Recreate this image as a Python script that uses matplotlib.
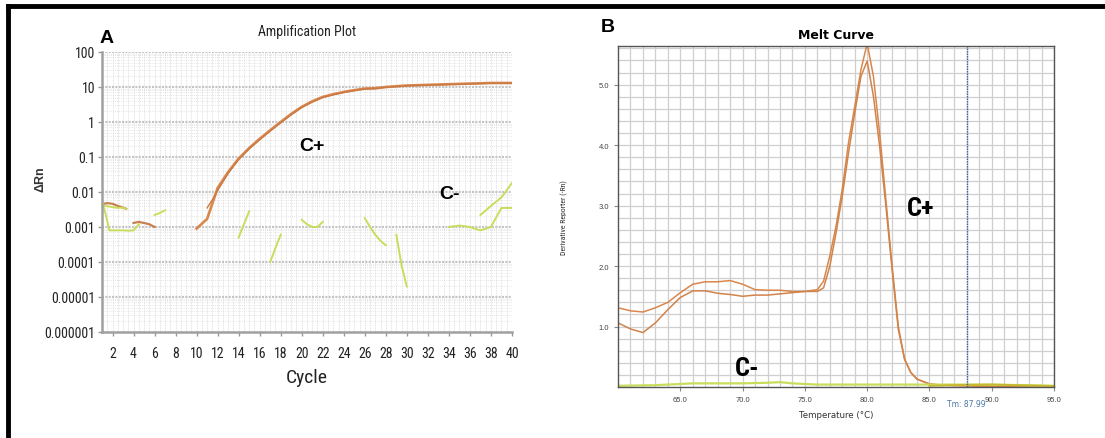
import numpy as np
import matplotlib
matplotlib.use('Agg')
import matplotlib.pyplot as plt
from matplotlib.lines import Line2D
from matplotlib.ticker import FixedLocator, NullFormatter
from matplotlib import font_manager

installed = {f.name for f in font_manager.fontManager.ttflist}
narrow_name = None
for cand in ['Liberation Sans Narrow', 'Roboto Condensed', 'DejaVu Sans Condensed',
             'Open Sans Condensed', 'Noto Sans Condensed']:
    if cand in installed:
        narrow_name = cand
        break
if narrow_name is None:
    narrow = ['Liberation Sans', 'DejaVu Sans']
    shrink = 0.85
else:
    narrow = [narrow_name, 'DejaVu Sans']
    shrink = 1.0
plt.rcParams['font.family'] = ['Liberation Sans', 'DejaVu Sans']

# ---- panel A: amplification plot (log scale) ----
cycle_pos_a = [10, 11, 12, 13, 14, 15, 16, 17, 18, 19, 20, 21, 22, 23, 24, 25, 26,
               27, 28, 29, 30, 32, 34, 36, 38, 40]
drn_pos_a = [0.0009, 0.0017, 0.013, 0.037, 0.09, 0.18, 0.33, 0.58, 1.0, 1.7, 2.7,
             3.9, 5.2, 6.2, 7.2, 8.1, 9.0, 9.2, 10.0, 10.5, 11.0, 11.5, 12.0, 12.5,
             13.0, 13.0]
cycle_pos_b = [11, 11.5, 12, 13, 14, 15, 16, 17, 18, 19, 20, 21, 22, 23, 24, 25, 26,
               27, 28, 29, 30, 32, 34, 36, 38, 40]
drn_pos_b = [0.0035, 0.006, 0.011, 0.034, 0.085, 0.17, 0.31, 0.55, 0.95, 1.6, 2.6,
             3.7, 5.0, 6.0, 7.0, 7.9, 8.8, 9.0, 9.8, 10.3, 10.8, 11.3, 11.8, 12.3,
             12.8, 12.9]
cycle_pos_early1 = [1, 1.5, 2, 2.5, 3, 3.3]
drn_pos_early1 = [0.0045, 0.0048, 0.0046, 0.004, 0.0036, 0.0033]
cycle_pos_early2 = [4, 4.5, 5, 5.5, 6]
drn_pos_early2 = [0.0013, 0.0014, 0.0013, 0.0012, 0.001]

neg_segments_a = [
    ([1, 1.4, 1.7, 2.5, 3, 3.5, 4, 4.5], [0.006, 0.002, 0.0008, 0.0008, 0.0008, 0.00078, 0.0008, 0.0012]),
    ([1.3, 2, 2.5, 3, 3.3], [0.004, 0.0037, 0.0035, 0.0036, 0.0032]),
    ([6, 6.5, 7], [0.0022, 0.0025, 0.003]),
    ([14, 14.5, 15], [0.0005, 0.0012, 0.0028]),
    ([17, 17.5, 18], [0.0001, 0.00025, 0.0006]),
    ([20, 20.5, 21, 21.5, 22], [0.0016, 0.0012, 0.001, 0.001, 0.0014]),
    ([26, 26.5, 27, 27.5, 28], [0.0018, 0.001, 0.0006, 0.0004, 0.0003]),
    ([29, 29.5, 30], [0.0006, 0.00008, 0.00002]),
    ([34, 35, 36, 37, 38, 39, 40], [0.001, 0.0011, 0.001, 0.0008, 0.001, 0.0035, 0.0035]),
    ([37, 38, 39, 40], [0.0022, 0.004, 0.007, 0.018]),
]
ytick_vals_a = [1e-6, 1e-5, 1e-4, 1e-3, 1e-2, 1e-1, 1, 10, 100]
ytick_labels_a = ['0.000001', '0.00001', '0.0001', '0.001', '0.01', '0.1', '1', '10', '100']
xtick_vals_a = list(range(2, 41, 2))

# ---- panel B: melt curve ----
temp_b = [60, 61, 62, 63, 64, 65, 66, 67, 68, 69, 70, 71, 72, 73, 74, 75, 76, 76.5,
          77, 77.5, 78, 78.5, 79, 79.5, 80, 80.5, 81, 81.5, 82, 82.5, 83, 83.5, 84,
          85, 86, 88, 90, 95]
melt_upper = [1.31, 1.26, 1.24, 1.31, 1.40, 1.56, 1.70, 1.74, 1.74, 1.76, 1.70, 1.61,
              1.60, 1.60, 1.58, 1.58, 1.61, 1.75, 2.17, 2.66, 3.27, 4.04, 4.64, 5.25,
              5.68, 5.14, 4.20, 3.10, 2.00, 1.00, 0.46, 0.24, 0.13, 0.05, 0.03, 0.02,
              0.01, 0.0]
melt_lower = [1.06, 0.96, 0.90, 1.06, 1.28, 1.48, 1.59, 1.59, 1.55, 1.53, 1.50, 1.52,
              1.52, 1.54, 1.56, 1.58, 1.58, 1.64, 2.00, 2.55, 3.16, 3.87, 4.53, 5.14,
              5.39, 4.81, 3.98, 3.00, 1.94, 0.95, 0.46, 0.24, 0.13, 0.05, 0.03, 0.02,
              0.01, 0.0]
temp_neg = [60, 63, 66, 68, 70, 72, 73, 74, 76, 80, 85, 90, 95]
melt_neg = [0.02, 0.03, 0.06, 0.06, 0.06, 0.07, 0.08, 0.06, 0.04, 0.04, 0.04, 0.04, 0.02]
temp_neg2 = [85, 88, 90, 92, 95]
melt_neg2 = [0.02, 0.035, 0.04, 0.03, 0.015]
tm_value = 87.99

orange = '#d9874c'
green = '#c9dd5c'

fig = plt.figure(figsize=(11.05, 4.39), dpi=100)

# frame (top and left thick lines)
fig.add_artist(Line2D([0.0075, 1.0], [0.9845, 0.9845], color='black', lw=3.5,
                      transform=fig.transFigure))
fig.add_artist(Line2D([0.0075, 0.0075], [0.0, 0.9845], color='black', lw=3.5,
                      transform=fig.transFigure))

# ---- A ----
ax = fig.add_axes([0.0923, 0.2415, 0.371, 0.6378])
ax.set_yscale('log')
ax.set_xlim(1, 40)
ax.set_ylim(1e-6, 100)
for xv in np.arange(1.5, 40, 0.5):
    ax.axvline(xv, color='#d9d9d9', lw=0.6, ls=(0, (1, 1)), zorder=0)
for dec in ytick_vals_a[1:]:
    ax.axhline(dec, color='#c4c4c4', lw=1.5, ls=(0, (1, 0.6)), zorder=0)
for dec in ytick_vals_a[:-1]:
    for m in range(2, 10):
        ax.axhline(dec * m, color='#dedede', lw=0.6, ls=(0, (1, 1.5)), zorder=0)

ax.plot(cycle_pos_a, drn_pos_a, color=orange, lw=1.9)
ax.plot(cycle_pos_b, drn_pos_b, color='#c97a45', lw=1.0)
ax.plot(cycle_pos_early1, drn_pos_early1, color='#c98050', lw=1.6)
ax.plot(cycle_pos_early2, drn_pos_early2, color='#c98050', lw=1.6)
for xs, ys in neg_segments_a:
    ax.plot(xs, ys, color=green, lw=1.4)

ax.yaxis.set_major_locator(FixedLocator(ytick_vals_a))
ax.yaxis.set_minor_locator(FixedLocator([]))
ax.yaxis.set_minor_formatter(NullFormatter())
ax.set_yticklabels(ytick_labels_a, family=narrow, fontsize=10 * shrink, color='#222222')
ax.set_xticks(xtick_vals_a)
ax.set_xticklabels([str(v) for v in xtick_vals_a], family=narrow, fontsize=10 * shrink,
                   color='#222222')
ax.tick_params(axis='both', length=3, color='#999999', width=1)
ax.tick_params(axis='y', pad=2)
ax.tick_params(axis='x', pad=7)
for s in ['top', 'right']:
    ax.spines[s].set_visible(False)
for s in ['left', 'bottom']:
    ax.spines[s].set_color('#a0a0a0')
    ax.spines[s].set_linewidth(1.8)

ax.set_xlabel('Cycle', family=narrow, fontsize=14 * shrink, color='#222222', labelpad=6)
ax.set_ylabel('ΔRn', fontsize=9, fontweight='bold', color='#333333')
ax.yaxis.set_label_coords(-0.135, 0.55)
ax.set_title('Amplification Plot', family=narrow, fontsize=10 * shrink, color='#222222',
             pad=12)
ax.text(-0.005, 1.035, 'A', transform=ax.transAxes, fontsize=14, fontweight='bold')
ax.text(21, 0.22, 'C+', fontsize=14, fontweight='bold', ha='center', va='center')
ax.text(34.1, 0.009, 'C-', fontsize=14, fontweight='bold', ha='center', va='center')

# ---- B ----
bx = fig.add_axes([0.5593, 0.1162, 0.3946, 0.7768])
bx.set_xlim(60, 95)
bx.set_ylim(0, 5.64)
bx.set_xticks(np.arange(61, 95, 1), minor=True)
bx.set_yticks(np.arange(0.2, 5.64, 0.2), minor=True)
bx.set_xticks([65, 70, 75, 80, 85, 90, 95])
bx.set_xticklabels(['65.0', '70.0', '75.0', '80.0', '85.0', '90.0', '95.0'])
bx.set_yticks([1, 2, 3, 4, 5])
bx.set_yticklabels(['1.0', '2.0', '3.0', '4.0', '5.0'])
bx.grid(which='both', color='#cfcfcf', lw=0.9)
bx.set_axisbelow(True)
bx.tick_params(which='major', labelsize=5.5, labelcolor='#444444', length=3,
               color='#888888')
bx.tick_params(which='minor', length=0)
for s in bx.spines.values():
    s.set_color('#555555')
    s.set_linewidth(1.0)

bx.plot(temp_b, melt_upper, color=orange, lw=1.1)
bx.plot(temp_b, melt_lower, color='#d0834a', lw=1.1)
bx.plot(temp_neg, melt_neg, color=green, lw=1.6)
bx.plot(temp_neg2, melt_neg2, color='#c8b830', lw=1.4)
bx.axvline(tm_value, color='#3a5aa8', lw=1.0, ls=(0, (1, 0.8)))

bx.set_title('Melt Curve', family=['DejaVu Sans'], fontsize=9, fontweight='bold', pad=6)
bx.set_xlabel('Temperature (°C)', family=['DejaVu Sans'], fontsize=6.2, color='#333333',
              labelpad=5)
bx.set_ylabel('Derivative Reporter (-Rn)', family=narrow, fontsize=5.6 * shrink,
              color='#333333', labelpad=22)
bx.text(tm_value, -0.27, 'Tm: 87.99', family=['DejaVu Sans'], fontsize=5.5,
        color='#4a78a8', ha='center', va='center')
bx.text(-0.04, 1.045, 'B', transform=bx.transAxes, fontsize=14, fontweight='bold')
bx.text(84.3, 2.96, 'C+', family=narrow, fontsize=19 * shrink, fontweight='bold',
        ha='center', va='center')
bx.text(70.4, 0.32, 'C-', family=narrow, fontsize=19 * shrink, fontweight='bold',
        ha='center', va='center')

fig.savefig('out.png', dpi=100)
